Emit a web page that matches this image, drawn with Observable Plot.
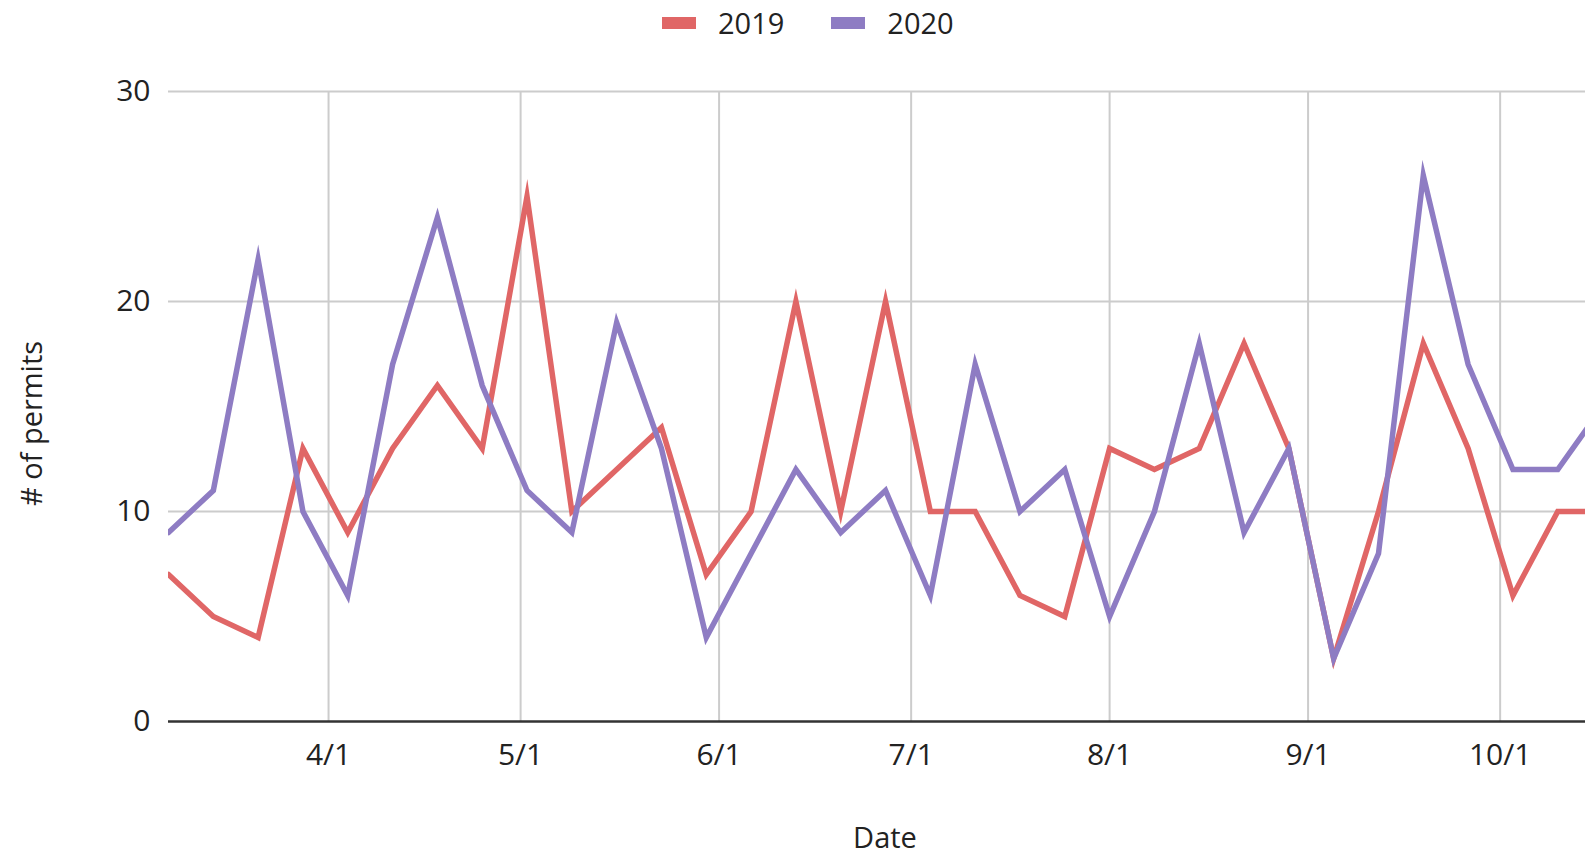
<!DOCTYPE html>
<html><head><meta charset="utf-8">
<script src="https://cdn.jsdelivr.net/npm/d3@7"></script>
<script src="https://cdn.jsdelivr.net/npm/@observablehq/plot@0.6"></script>
<style>
html,body{margin:0;padding:0;background:#fff;}
body{width:1585px;height:855px;overflow:hidden;font-family:"Open Sans",sans-serif;color:#222;}
#legend{height:45px;display:flex;align-items:center;padding-left:662px;box-sizing:border-box;font-size:29px;}
#legend .sw{width:34px;height:12px;margin-right:22px;}
#legend .lb{margin-right:47px;line-height:1;}
</style></head><body>
<div id="legend"></div>
<div id="chart"></div>
<script>
const weeks = ["2020-03-07","2020-03-14","2020-03-21","2020-03-28","2020-04-04","2020-04-11","2020-04-18","2020-04-25",
  "2020-05-02","2020-05-09","2020-05-16","2020-05-23","2020-05-30","2020-06-06","2020-06-13","2020-06-20","2020-06-27",
  "2020-07-04","2020-07-11","2020-07-18","2020-07-25","2020-08-01","2020-08-08","2020-08-15","2020-08-22","2020-08-29",
  "2020-09-05","2020-09-12","2020-09-19","2020-09-26","2020-10-03","2020-10-10","2020-10-17"];
const permits2019 = [7,5,4,13,9,13,16,13,25,10,12,14,7,10,20,10,20,10,10,6,5,13,12,13,18,13,3,10,18,13,6,10,10];
const permits2020 = [9,11,22,10,6,17,24,16,11,9,19,13,4,8,12,9,11,6,17,10,12,5,10,18,9,13,3,8,26,17,12,12,15];
const seriesNames = ["2019","2020"];
const seriesColors = ["#e06666","#8e7cc3"];
const xTicks = ["2020-04-01","2020-05-01","2020-06-01","2020-07-01","2020-08-01","2020-09-01","2020-10-01"];
const yTicks = [0,10,20,30];
const xDomain = ["2020-03-07","2020-10-14T08:00"];
const xTitle = "Date";
const yTitle = "# of permits";

const parse = s => new Date(s + (s.includes("T") ? "Z" : "T00:00Z"));
const rows = [];
[permits2019, permits2020].forEach((vals, k) => {
  vals.forEach((v, i) => rows.push({date: parse(weeks[i]), value: v, series: seriesNames[k]}));
});

// legend
const leg = document.getElementById("legend");
seriesNames.forEach((n, k) => {
  const sw = document.createElement("span"); sw.className = "sw"; sw.style.background = seriesColors[k];
  const lb = document.createElement("span"); lb.className = "lb"; lb.textContent = n;
  leg.appendChild(sw); leg.appendChild(lb);
});

const fmt = d3.utcFormat("%-m/%-d");
const chart = Plot.plot({
  width: 1585,
  height: 810,
  marginLeft: 168,
  marginRight: 0,
  marginTop: 46,
  marginBottom: 134,
  style: {fontFamily: "'Open Sans', sans-serif", fontSize: "29px", color: "#222", background: "#fff"},
  x: {type: "utc", domain: xDomain.map(parse)},
  y: {domain: [0, 30]},
  color: {domain: seriesNames, range: seriesColors},
  marks: [
    Plot.gridX(xTicks.map(parse), {stroke: "#cccccc", strokeOpacity: 1, strokeWidth: 2}),
    Plot.gridY(yTicks.filter(t => t > 0), {stroke: "#cccccc", strokeOpacity: 1, strokeWidth: 2}),
    Plot.axisX(xTicks.map(parse), {tickSize: 0, tickPadding: 22, tickFormat: fmt, label: null, fill: "#222", fontSize: 30}),
    Plot.axisY(yTicks, {tickSize: 0, tickPadding: 18, label: null, fill: "#222", fontSize: 30}),
    Plot.ruleY([0], {stroke: "#333", strokeWidth: 2.5}),
    Plot.line(rows, {x: "date", y: "value", z: "series", stroke: "series", strokeWidth: 5.5,
      strokeLinejoin: "miter", strokeMiterlimit: 10, clip: true}),
    Plot.text([xTitle], {frameAnchor: "bottom", dx: 8, dy: 117, lineAnchor: "middle", fill: "#222"}),
    Plot.text([yTitle], {frameAnchor: "left", dx: -136, dy: 17, rotate: -90, textAnchor: "middle", lineAnchor: "middle", fill: "#222"})
  ]
});
document.getElementById("chart").appendChild(chart);
</script>
</body></html>
